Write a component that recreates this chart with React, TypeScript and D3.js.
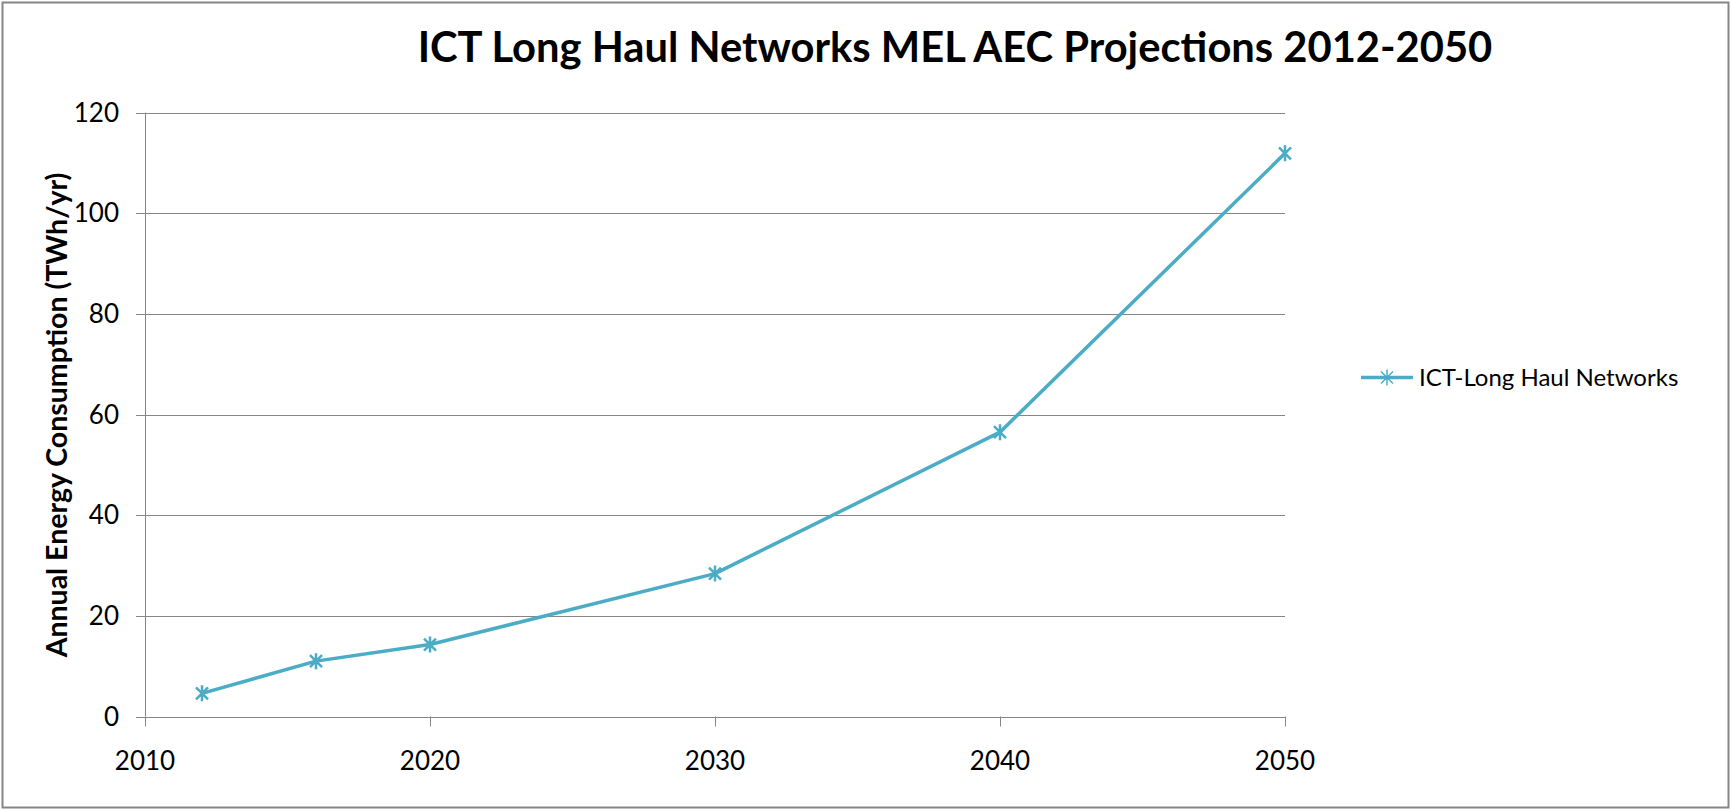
import React from "react";
import * as d3 from "d3";

const years = [2012, 2016, 2020, 2030, 2040, 2050];
const consumption = [4.6, 11.0, 14.3, 28.4, 56.5, 111.9];
const xTicks = [2010, 2020, 2030, 2040, 2050];
const yTicks = [0, 20, 40, 60, 80, 100, 120];
const seriesName = "ICT-Long Haul Networks";
const titleText = "ICT Long Haul Networks MEL AEC Projections 2012-2050";
const yTitle = "Annual Energy Consumption (TWh/yr)";

const W = 1731;
const H = 810;
const LINE = "#4BACC6";
const GRID = "#868686";
const FONT = "Lato, 'Open Sans', sans-serif";

const starPath = "M-6,-6L6,6M-6,6L6,-6M0,-8L0,8";

export default function App() {
  const x = d3.scaleLinear().domain([2010, 2050]).range([145, 1285]);
  const y = d3.scaleLinear().domain([0, 120]).range([716.5, 112.6]);
  const line = d3
    .line<number>()
    .x((_, i) => x(years[i]))
    .y((d) => y(d));

  return (
    <svg
      width={W}
      height={H}
      style={{ position: "absolute", left: 0, top: 0, background: "#fff" }}
      fontFamily={FONT}
    >
      <rect x={0} y={0} width={W} height={H} fill="#fff" />
      <rect x={2.5} y={2.5} width={W - 5} height={H - 5} fill="none" stroke={GRID} strokeWidth={2} />
      <text
        x={955}
        y={62}
        textAnchor="middle"
        fontSize={41.7}
        fontWeight="bold"
        fill="#000"
      >
        {titleText}
      </text>

      {/* gridlines */}
      {yTicks.map((t) => (
        <g key={t}>
          <line
            x1={x(2010) - 9}
            x2={x(2050)}
            y1={Math.round(y(t)) + 0.5}
            y2={Math.round(y(t)) + 0.5}
            stroke={GRID}
            strokeWidth={1}
          />
          <text
            x={119}
            y={y(t)}
            dy="0.35em"
            textAnchor="end"
            fontSize={26}
            fill="#000"
          >
            {t}
          </text>
        </g>
      ))}
      {/* y axis */}
      <line
        x1={Math.round(x(2010)) + 0.5}
        x2={Math.round(x(2010)) + 0.5}
        y1={y(120)}
        y2={y(0)}
        stroke={GRID}
      />
      {/* x ticks */}
      {xTicks.map((t) => (
        <g key={t}>
          <line
            x1={Math.round(x(t)) + 0.5}
            x2={Math.round(x(t)) + 0.5}
            y1={y(0)}
            y2={y(0) + 10}
            stroke={GRID}
          />
          <text x={x(t)} y={770} textAnchor="middle" fontSize={26} fill="#000">
            {t}
          </text>
        </g>
      ))}

      <text
        transform={`translate(67,415) rotate(-90)`}
        textAnchor="middle"
        fontSize={28.5}
        fontWeight="bold"
        fill="#000"
      >
        {yTitle}
      </text>

      <path d={line(consumption) || ""} fill="none" stroke={LINE} strokeWidth={3.5} strokeLinejoin="round" />
      {consumption.map((v, i) => (
        <path
          key={i}
          d={starPath}
          transform={`translate(${x(years[i])},${y(v)})`}
          stroke={LINE}
          strokeWidth={2.5}
          fill="none"
        />
      ))}

      {/* legend */}
      <line x1={1361} x2={1413} y1={377.5} y2={377.5} stroke={LINE} strokeWidth={3.5} />
      <path d={starPath} transform="translate(1387,377.5)" stroke={LINE} strokeWidth={1.5} fill="none" />
      <text x={1419} y={377.5} dy="0.35em" fontSize={24} fill="#000">
        {seriesName}
      </text>
    </svg>
  );
}
